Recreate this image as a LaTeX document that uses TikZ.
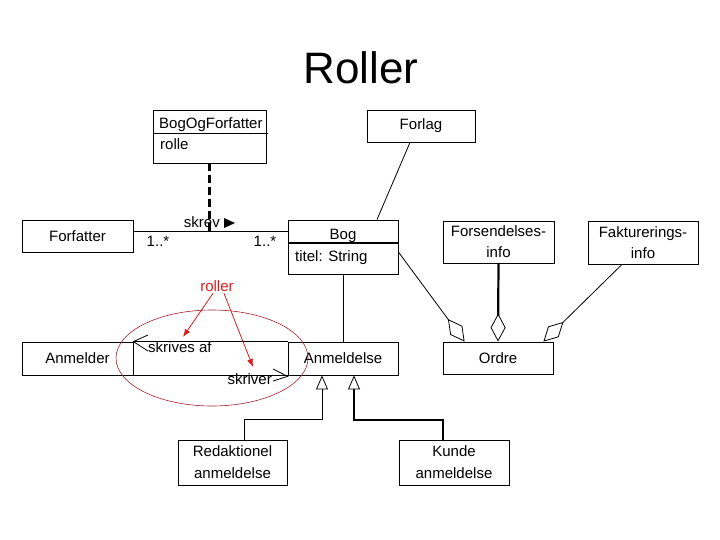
\documentclass[tikz,border=0pt]{standalone}
\usepackage{fontspec}
\setmainfont{Liberation Sans}
\usetikzlibrary{arrows.meta}
\definecolor{rodlinje}{RGB}{165,35,45}
\definecolor{rodtekst}{RGB}{215,30,30}

\begin{document}
\begin{tikzpicture}[x=1pt,y=-1pt,
    klasse/.style={draw, line width=0.8pt, inner sep=0pt, minimum width=110pt, minimum height=32pt, align=center, font=\fontsize{15}{21}\selectfont},
    tekst/.style={inner sep=0pt, font=\fontsize{15}{18}\selectfont},
    aggr/.style={line width=0.8pt, {Diamond[open,line width=0.8pt,length=28pt,width=15pt]}-},
    arv/.style={line width=0.8pt, -{Triangle[open,line width=0.8pt,length=14pt,width=12pt]}},
    rodpil/.style={rodtekst, line width=0.8pt, -{Latex[length=8pt,width=6pt]}}]
  \useasboundingbox (0,0) rectangle (720,540);
  \node[font=\fontsize{44}{44}\selectfont, inner sep=0pt] (titel) at (361,68) {Roller};

  \node[klasse, minimum width=113pt, minimum height=53pt] (bof) at (209.5,136.5) {};
  \draw[line width=0.8pt] (bof.west |- 0,133) -- ([xshift=2pt]bof.east |- 0,133);
  \node[tekst, anchor=base west] (bofnavn) at (159,129) {BogOgForfatter};
  \node[tekst, anchor=base west] (rolle) at (160,150) {rolle};
  \node[klasse, minimum width=108pt] (forlag) at (421,126) {Forlag};
  \node[klasse, minimum width=111pt] (forfatter) at (77.5,236) {Forfatter};
  \node[klasse, minimum height=54pt] (bog) at (343,247) {};
  \draw[line width=1.8pt] (bog.west |- 0,243) -- (bog.east |- 0,243);
  \node[tekst, anchor=base] (bognavn) at (343,240) {Bog};
  \node[tekst, anchor=base west] (titelattr) at (295,261) {titel: String};
  \node[klasse, minimum width=111pt, minimum height=42pt] (forsend) at (498.5,242) {Forsendelses-\\info};
  \node[klasse, minimum height=43pt] (faktura) at (643,242.5) {Fakturerings-\\info};
  \node[klasse] (ordre) at (498,358) {Ordre};
  \node[klasse, minimum width=111pt, minimum height=33pt] (anmelder) at (77.5,358.5) {Anmelder};
  \node[klasse, minimum height=33pt] (anmeldelse) at (343,358.5) {Anmeldelse};
  \node[klasse, minimum width=109pt, minimum height=45pt, font=\fontsize{15}{22}\selectfont] (redak) at (232.5,462.5) {Redaktionel\\anmeldelse};
  \node[klasse, minimum height=45pt, font=\fontsize{15}{22}\selectfont] (kunde) at (454,462.5) {Kunde\\anmeldelse};

  \coordinate (skrevlinje) at ([yshift=5pt]forfatter.east);
  \draw[line width=0.8pt] (skrevlinje) -- (skrevlinje -| bog.west);
  \draw[line width=2.4pt, dash pattern=on 8pt off 4pt] (bof.south) -- (bof.south |- skrevlinje);
  \node[tekst, anchor=base east] (skrev) at (220,228) {skrev};
  \fill (224,218) -- (235,223) -- (224,228) -- cycle;
  \node[tekst, anchor=base] (mult1) at (158,247) {1..*};
  \node[tekst, anchor=base] (mult2) at (265,247) {1..*};
  \draw[line width=0.8pt] ([xshift=-11pt]forlag.south) -- ([xshift=34pt]bog.north);
  \draw[line width=0.8pt] (bog.south) -- (anmeldelse.north);

  \draw[aggr] ([xshift=22pt]ordre.north west) -- ([yshift=-5pt]bog.east);
  \draw[aggr, line width=2.2pt] (ordre.north) -- (forsend.south);
  \draw[aggr] ([xshift=-10pt]ordre.north east) -- ([xshift=-21pt]faktura.south);

  \draw[line width=0.8pt] (anmelder.north east) -- (anmeldelse.north west);
  \draw[line width=0.8pt] (anmelder.south east) -- (anmeldelse.south west);
  \draw[line width=0.8pt] (148,335) -- (anmelder.north east) -- (148,351);
  \node[tekst, anchor=base west] (skrivesaf) at (148,352) {skrives af};
  \draw[line width=0.8pt] (273,369) -- ([yshift=-1pt]anmeldelse.south west) -- (273,381);
  \node[tekst, anchor=base east] (skriver) at (272,384) {skriver};

  \draw[arv] ([xshift=11.5pt]redak.north) -- ++(0,-20) -| ([xshift=-21pt]anmeldelse.south);
  \draw[arv, line width=2.2pt] ([xshift=-11pt]kunde.north) -- ++(0,-20) -| ([xshift=11pt]anmeldelse.south);

  \draw[rodlinje, line width=0.6pt] (212,358) ellipse [x radius=96, y radius=48];
  \node[tekst, text=rodtekst, anchor=base] (roller) at (217,291) {roller};
  \coordinate (afpil) at (183,337);
  \coordinate (skriverpil) at (253,367);
  \draw[rodpil] ([xshift=-4pt,yshift=-2pt]roller.south) -- (afpil);
  \draw[rodpil] ([xshift=7pt,yshift=-2pt]roller.south) -- (skriverpil);
\end{tikzpicture}
\end{document}
